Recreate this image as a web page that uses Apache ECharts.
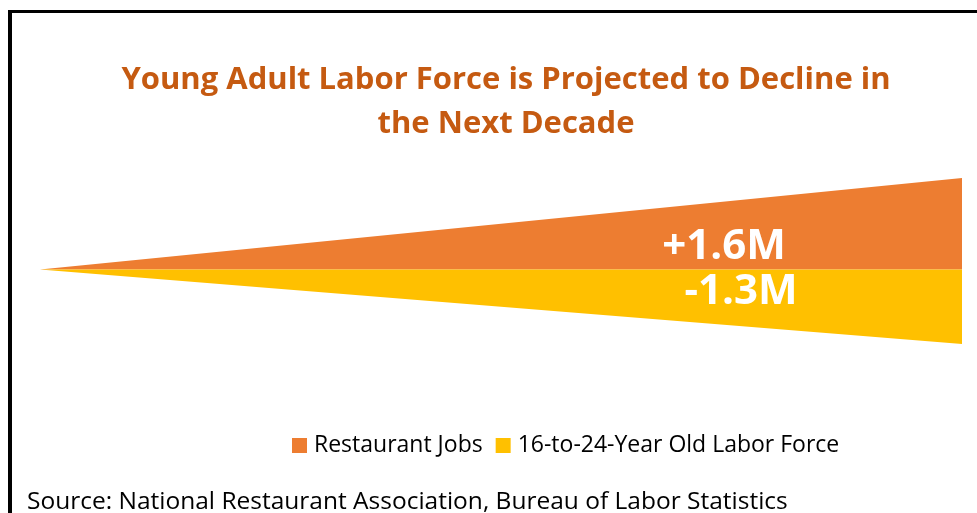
<!DOCTYPE html>
<html>
<head>
<meta charset="utf-8">
<script src="https://cdn.jsdelivr.net/npm/echarts@6/dist/echarts.min.js"></script>
<style>
html,body{margin:0;padding:0;background:#fff;}
#chart{width:977px;height:513px;}
</style>
</head>
<body>
<div id="chart"></div>
<script>
// Data
var periods = [0, 1];                       // start, end of the decade
var seriesNames = ['Restaurant Jobs', '16-to-24-Year Old Labor Force'];
var restaurantJobs = [0, 1.6];              // millions, change
var youngLaborForce = [0, -1.3];            // millions, change
var endLabels = ['+1.6M', '-1.3M'];
var titleLines = ['Young Adult Labor Force is Projected to Decline in', 'the Next Decade'];
var sourceText = 'Source: National Restaurant Association, Bureau of Labor Statistics';

var colors = ['#ED7D31', '#FFC000'];

function buildData(vals, label, offset) {
  return vals.map(function (v, i) {
    if (i === vals.length - 1) {
      return {
        value: [periods[i], v],
        label: {
          show: true,
          formatter: label,
          position: 'inside',
          offset: offset,
          color: '#fff',
          fontFamily: 'Open Sans',
          fontWeight: 'bold',
          fontSize: 42
        }
      };
    }
    return { value: [periods[i], v], label: { show: false } };
  });
}

var chart = echarts.init(document.getElementById('chart'));
chart.setOption({
  animation: false,
  backgroundColor: '#fff',
  legend: {
    data: seriesNames,
    top: 429,
    left: 287,
    icon: 'rect',
    itemWidth: 15,
    itemHeight: 15,
    itemGap: 13,
    itemStyle: { opacity: 1 },
    textStyle: { color: '#000', fontFamily: 'Open Sans', fontSize: 23, padding: [0, 0, 0, 2] }
  },
  grid: { left: 40, right: 15, top: 178, bottom: 169 },
  xAxis: { type: 'value', min: 0, max: 1, show: false },
  yAxis: { type: 'value', min: -1.3, max: 1.6, show: false },
  series: [
    {
      name: seriesNames[0], type: 'line', color: colors[0],
      symbol: 'circle', symbolSize: 0.01, showSymbol: true, clip: false,
      lineStyle: { width: 0 },
      areaStyle: { color: colors[0], opacity: 1 },
      data: buildData(restaurantJobs, endLabels[0], [-238, 69])
    },
    {
      name: seriesNames[1], type: 'line', color: colors[1],
      symbol: 'circle', symbolSize: 0.01, showSymbol: true, clip: false,
      lineStyle: { width: 0 },
      areaStyle: { color: colors[1], opacity: 1 },
      data: buildData(youngLaborForce, endLabels[1], [-221, -52])
    }
  ],
  graphic: [
    { type: 'line', shape: { x1: 8, y1: 11.5, x2: 977, y2: 11.5 }, style: { stroke: '#000', lineWidth: 3 } },
    { type: 'line', shape: { x1: 10, y1: 10, x2: 10, y2: 513 }, style: { stroke: '#000', lineWidth: 4 } },
    { type: 'text', x: 506, y: 80, style: { text: titleLines[0], fill: '#C55A11', font: 'bold 31px "Open Sans"', textAlign: 'center', textVerticalAlign: 'middle' } },
    { type: 'text', x: 506, y: 124, style: { text: titleLines[1], fill: '#C55A11', font: 'bold 31px "Open Sans"', textAlign: 'center', textVerticalAlign: 'middle' } },
    { type: 'text', x: 27, y: 502, style: { text: sourceText, fill: '#000', font: '24.5px "Open Sans"', textVerticalAlign: 'middle' } }
  ]
});
</script>
</body>
</html>
